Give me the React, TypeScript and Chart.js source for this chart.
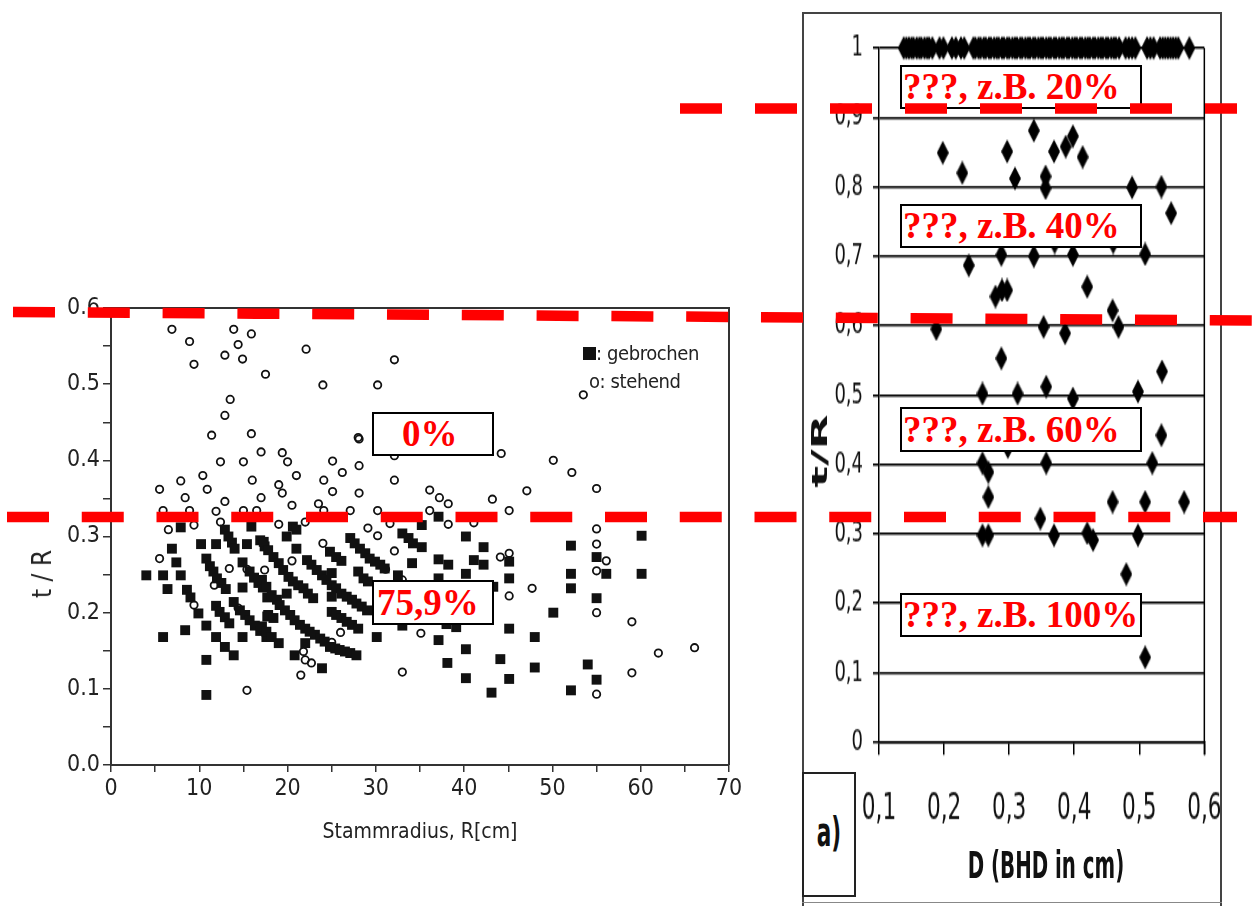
import React, { useEffect, useRef } from 'react';
import { Chart, registerables } from 'chart.js';

Chart.register(...registerables);

const NARROW = "'Liberation Sans Narrow','Arial Narrow','DejaVu Sans Condensed','Liberation Sans',Arial,sans-serif";
const SERIF = "'Liberation Serif','Times New Roman',Times,serif";

// ---------- left chart: t/R vs. Stammradius ----------
const xTicksLeft = [0, 10, 20, 30, 40, 50, 60, 70];
const yTicksLeft = ['0.0', '0.1', '0.2', '0.3', '0.4', '0.5', '0.6'];

// gebrochen (filled squares): [R in cm, t/R]
const gebrochen: [number, number][] = [
  [4.0, 0.249], [5.9, 0.249], [6.4, 0.231], [5.9, 0.168], [7.9, 0.312], [6.9, 0.284], [7.4, 0.266], [7.9, 0.249],
  [8.6, 0.230], [9.0, 0.220], [9.9, 0.199], [8.4, 0.177],
  [10.2, 0.290], [11.9, 0.290], [10.8, 0.271], [11.2, 0.261], [11.6, 0.254], [12.0, 0.245], [12.5, 0.239], [13.0, 0.231],
  [10.8, 0.183], [11.9, 0.168], [12.9, 0.155], [13.9, 0.144], [10.8, 0.138], [10.8, 0.092],
  [11.9, 0.209], [12.3, 0.201], [12.9, 0.194], [13.4, 0.186],
  [12.9, 0.309], [13.3, 0.300], [13.7, 0.292], [14.0, 0.284],
  [15.9, 0.313], [15.4, 0.290], [14.9, 0.266], [14.9, 0.233], [13.9, 0.214], [14.9, 0.168],
  [15.7, 0.254], [16.2, 0.246], [16.7, 0.239], [17.2, 0.233], [17.7, 0.220],
  [14.6, 0.203], [15.2, 0.197], [15.7, 0.190], [16.3, 0.183], [16.9, 0.176], [17.6, 0.168],
  [16.9, 0.295], [17.4, 0.287], [17.7, 0.195],
  [20.6, 0.313], [21.0, 0.309], [19.9, 0.300], [21.0, 0.284],
  [17.3, 0.293], [17.8, 0.282], [18.4, 0.273], [19.0, 0.265], [19.5, 0.256], [20.1, 0.247], [20.6, 0.241],
  [21.2, 0.236], [21.8, 0.232], [22.3, 0.225], [22.9, 0.219],
  [17.1, 0.243], [17.6, 0.234], [18.2, 0.223], [18.8, 0.217], [19.1, 0.210], [19.7, 0.203], [20.3, 0.197],
  [20.8, 0.190], [21.4, 0.184], [22.0, 0.179], [22.5, 0.175], [23.1, 0.171], [23.7, 0.166], [24.2, 0.162],
  [24.8, 0.155], [25.4, 0.153], [25.9, 0.151], [26.5, 0.149], [27.1, 0.147], [27.8, 0.144],
  [17.1, 0.182], [17.6, 0.175], [18.2, 0.168], [19.0, 0.160], [17.8, 0.197], [18.4, 0.193], [22.0, 0.160],
  [20.8, 0.144], [23.9, 0.127], [19.9, 0.225],
  [22.2, 0.269], [22.7, 0.263], [23.3, 0.256], [23.9, 0.249], [24.4, 0.243], [25.0, 0.236], [25.5, 0.232],
  [26.1, 0.225], [26.7, 0.221], [27.3, 0.217], [27.8, 0.212], [28.4, 0.208], [29.0, 0.203],
  [24.8, 0.280], [25.5, 0.273], [26.1, 0.268], [25.0, 0.252], [25.0, 0.221], [25.0, 0.201], [25.5, 0.197],
  [26.1, 0.193], [26.7, 0.188], [27.3, 0.184], [28.0, 0.179],
  [27.1, 0.298], [27.6, 0.291], [28.2, 0.284], [28.8, 0.278], [29.3, 0.271], [29.9, 0.267], [30.5, 0.263],
  [31.0, 0.258], [28.0, 0.254], [28.6, 0.245], [29.1, 0.241], [30.1, 0.168],
  [33.0, 0.304], [33.7, 0.298], [34.2, 0.291], [34.1, 0.265], [32.5, 0.249],
  [35.2, 0.286], [35.2, 0.315], [37.1, 0.326], [37.1, 0.270], [38.2, 0.263], [40.2, 0.300], [42.2, 0.286],
  [41.1, 0.269], [42.2, 0.263], [40.2, 0.251], [37.1, 0.245], [45.1, 0.267], [45.1, 0.245], [43.3, 0.234],
  [33.0, 0.183], [39.1, 0.181], [38.0, 0.185], [37.1, 0.164], [40.2, 0.152], [38.1, 0.134], [40.2, 0.114],
  [43.1, 0.095], [44.1, 0.139], [45.1, 0.179], [45.1, 0.113], [48.0, 0.168], [48.0, 0.128], [50.1, 0.200],
  [52.1, 0.288], [52.1, 0.251], [52.1, 0.232], [52.1, 0.098], [54.0, 0.132], [55.0, 0.112], [55.0, 0.273],
  [56.1, 0.251], [55.0, 0.219], [60.1, 0.301], [60.1, 0.251],
];

// stehend (open circles): [R in cm, t/R]
const stehend: [number, number][] = [
  [6.9, 0.572], [8.9, 0.556], [9.4, 0.526], [13.9, 0.572], [14.4, 0.552], [15.9, 0.566], [12.9, 0.538],
  [14.9, 0.533], [22.1, 0.546], [17.5, 0.513], [24.0, 0.499], [30.2, 0.499], [32.1, 0.532],
  [13.5, 0.480], [12.9, 0.459], [11.4, 0.433], [15.9, 0.435], [28.0, 0.430], [28.1, 0.428],
  [17.0, 0.411], [19.4, 0.410], [20.0, 0.398], [12.4, 0.398], [15.0, 0.398], [25.1, 0.399], [26.2, 0.384],
  [32.1, 0.406], [32.1, 0.374], [28.1, 0.393],
  [10.4, 0.380], [7.9, 0.373], [10.9, 0.362], [5.5, 0.362], [8.4, 0.351], [16.0, 0.374], [21.0, 0.380],
  [19.0, 0.368], [19.4, 0.357], [17.0, 0.351], [24.1, 0.374], [25.1, 0.359], [28.1, 0.357],
  [12.9, 0.346], [20.5, 0.341], [23.5, 0.343], [11.9, 0.333], [8.9, 0.334], [5.9, 0.334], [15.0, 0.334],
  [16.5, 0.334], [27.1, 0.334], [30.2, 0.334], [24.1, 0.334],
  [12.4, 0.319], [9.4, 0.315], [6.5, 0.309], [19.0, 0.316], [22.0, 0.319], [29.1, 0.311], [30.2, 0.301], [31.6, 0.317],
  [44.2, 0.409], [50.1, 0.400], [52.2, 0.384], [53.5, 0.486], [55.0, 0.363], [47.1, 0.360], [43.2, 0.349],
  [36.1, 0.361], [37.2, 0.351], [38.2, 0.343], [36.1, 0.334], [38.2, 0.316], [45.1, 0.334], [41.1, 0.318], [55.0, 0.310],
  [55.0, 0.290], [56.1, 0.268], [55.0, 0.255], [45.1, 0.278], [44.1, 0.273], [45.1, 0.222], [47.7, 0.232],
  [55.0, 0.200], [59.0, 0.188], [62.0, 0.147], [66.1, 0.154], [59.0, 0.121], [55.0, 0.093], [35.1, 0.173],
  [33.0, 0.122], [32.1, 0.281], [31.1, 0.257], [33.0, 0.243],
  [24.0, 0.291], [20.5, 0.268], [17.4, 0.256], [26.0, 0.174], [25.0, 0.161], [21.8, 0.149], [22.0, 0.138],
  [22.7, 0.134], [21.5, 0.118],
  [5.5, 0.271], [13.4, 0.258], [11.7, 0.236], [9.4, 0.210], [15.4, 0.257], [15.4, 0.098], [14.4, 0.206],
];

// ---------- right chart: t/R vs. D ----------
const xTicksRight = ['0,1', '0,2', '0,3', '0,4', '0,5', '0,6'];
const yTicksRight = ['0', '0,1', '0,2', '0,3', '0,4', '0,5', '0,6', '0,7', '0,8', '0,9', '1'];

// trees with t/R = 1 (D values), a dense band along the top
const dAtOne: number[] = [
  0.138, 0.142, 0.146, 0.150, 0.153, 0.158, 0.162, 0.165, 0.170, 0.174, 0.177, 0.182,
  0.193, 0.199, 0.212, 0.218, 0.226, 0.231,
  0.245, 0.248, 0.253, 0.256, 0.261, 0.264, 0.269, 0.272, 0.277, 0.281, 0.284, 0.289, 0.292, 0.297,
  0.300, 0.305, 0.309, 0.312, 0.317, 0.320, 0.325, 0.329, 0.332, 0.337, 0.340, 0.345, 0.349, 0.352,
  0.357, 0.361, 0.364, 0.369, 0.372, 0.377, 0.381, 0.384, 0.389, 0.392, 0.397, 0.401, 0.404, 0.409,
  0.412, 0.417, 0.421, 0.424, 0.429, 0.432, 0.437, 0.441, 0.444, 0.449, 0.452, 0.457, 0.461, 0.464, 0.469,
  0.479, 0.484, 0.489, 0.494, 0.512, 0.517, 0.522,
  0.532, 0.536, 0.540, 0.544, 0.548, 0.552, 0.556, 0.560, 0.577,
];

// remaining trees: [D, t/R]
const rightPoints: [number, number][] = [
  [0.198, 0.849], [0.228, 0.820], [0.297, 0.851], [0.309, 0.812], [0.338, 0.881], [0.356, 0.815], [0.356, 0.798],
  [0.369, 0.851], [0.387, 0.858], [0.398, 0.873], [0.413, 0.843], [0.489, 0.799], [0.534, 0.800], [0.549, 0.762],
  [0.238, 0.687], [0.288, 0.702], [0.338, 0.700], [0.398, 0.702], [0.509, 0.703], [0.370, 0.720], [0.460, 0.720],
  [0.279, 0.642], [0.289, 0.651], [0.297, 0.651], [0.420, 0.656], [0.459, 0.622],
  [0.188, 0.595], [0.353, 0.598], [0.386, 0.589], [0.468, 0.598], [0.288, 0.553], [0.535, 0.534],
  [0.259, 0.502], [0.313, 0.502], [0.357, 0.512], [0.398, 0.495], [0.498, 0.505],
  [0.534, 0.442], [0.259, 0.402], [0.268, 0.389], [0.298, 0.425], [0.357, 0.402], [0.520, 0.402],
  [0.268, 0.353], [0.459, 0.346], [0.509, 0.346], [0.569, 0.346], [0.348, 0.322],
  [0.259, 0.298], [0.268, 0.298], [0.369, 0.298], [0.420, 0.301], [0.429, 0.291], [0.498, 0.298],
  [0.480, 0.242], [0.509, 0.122],
];

// ---------- annotation overlay ----------
const labelBoxes = [
  { text: '0%', left: 372, top: 412, width: 122, height: 44, pad: 28 },
  { text: '75,9%', left: 372, top: 580, width: 122, height: 45, pad: 3 },
  { text: '???, z.B. 20%', left: 900, top: 65, width: 242, height: 44, pad: 1 },
  { text: '???, z.B. 40%', left: 900, top: 204, width: 242, height: 44, pad: 1 },
  { text: '???, z.B. 60%', left: 900, top: 407, width: 242, height: 45, pad: 1 },
  { text: '???, z.B. 100%', left: 900, top: 593, width: 242, height: 44, pad: 1 },
];

const frameLeftPlugin = {
  id: 'frameLeft',
  afterDraw(chart: any) {
    const { ctx, chartArea: a } = chart;
    ctx.save();
    ctx.strokeStyle = '#333';
    ctx.lineWidth = 2;
    ctx.beginPath();
    ctx.moveTo(a.left, a.top);
    ctx.lineTo(a.right, a.top);
    ctx.lineTo(a.right, a.bottom);
    ctx.stroke();
    ctx.restore();
  },
};

const rightBorderPlugin = {
  id: 'rightBorder',
  afterDraw(chart: any) {
    const { ctx, chartArea: a } = chart;
    ctx.save();
    ctx.strokeStyle = '#000';
    ctx.lineWidth = 1.5;
    ctx.beginPath();
    ctx.moveTo(a.right, a.top);
    ctx.lineTo(a.right, a.bottom + 8.7);
    ctx.stroke();
    ctx.restore();
  },
};

export default function App() {
  const leftRef = useRef<HTMLCanvasElement>(null);
  const rightRef = useRef<HTMLCanvasElement>(null);

  useEffect(() => {
    const left = new Chart(leftRef.current as HTMLCanvasElement, {
      type: 'scatter',
      data: {
        datasets: [
          {
            label: 'gebrochen',
            data: gebrochen.map(([x, y]) => ({ x, y })),
            pointStyle: 'rect',
            pointRadius: 7,
            backgroundColor: '#111',
            borderWidth: 0,
            clip: false,
          },
          {
            label: 'stehend',
            data: stehend.map(([x, y]) => ({ x, y })),
            pointStyle: 'circle',
            pointRadius: 3.7,
            borderWidth: 1.8,
            borderColor: '#111',
            backgroundColor: 'rgba(0,0,0,0)',
            clip: false,
          },
        ],
      },
      options: {
        animation: false,
        responsive: false,
        devicePixelRatio: 1,
        events: [],
        layout: { padding: { top: 28, right: 31, left: 0, bottom: 0 } },
        plugins: { legend: { display: false }, tooltip: { enabled: false } },
        scales: {
          x: {
            type: 'linear',
            min: xTicksLeft[0],
            max: xTicksLeft[xTicksLeft.length - 1],
            afterFit: (s: any) => { s.height = 95; },
            ticks: {
              stepSize: 5,
              autoSkip: false,
              maxRotation: 0,
              padding: 3,
              color: '#222',
              font: { family: NARROW, size: 23 },
              callback: (v: any) => (xTicksLeft.includes(Number(v)) ? String(v) : ''),
            },
            grid: { drawOnChartArea: false, drawTicks: true, tickLength: 7, color: '#333', lineWidth: 1.5 },
            border: { display: true, color: '#333', width: 2 },
          },
          y: {
            min: 0,
            max: 0.6,
            afterFit: (s: any) => { s.width = 111; },
            ticks: {
              stepSize: 0.05,
              autoSkip: false,
              padding: 3,
              color: '#222',
              font: { family: NARROW, size: 23 },
              callback: (v: any) => {
                const k = Math.round(Number(v) * 20);
                return k % 2 === 0 ? yTicksLeft[k / 2] : '';
              },
            },
            grid: { drawOnChartArea: false, drawTicks: true, tickLength: 8, color: '#333', lineWidth: 1.5 },
            border: { display: true, color: '#333', width: 2 },
          },
        },
      },
      plugins: [frameLeftPlugin],
    });

    const diamond = document.createElement('canvas');
    diamond.width = 12;
    diamond.height = 16;
    const dctx = diamond.getContext('2d') as CanvasRenderingContext2D;
    dctx.fillStyle = '#000';
    dctx.beginPath();
    dctx.moveTo(6, 0);
    dctx.lineTo(12, 8);
    dctx.lineTo(6, 16);
    dctx.lineTo(0, 8);
    dctx.closePath();
    dctx.fill();

    const rightData = [
      ...dAtOne.map((x) => ({ x, y: 1 })),
      ...rightPoints.map(([x, y]) => ({ x, y })),
    ];

    const right = new Chart(rightRef.current as HTMLCanvasElement, {
      type: 'scatter',
      data: {
        datasets: [
          {
            label: 't/R',
            data: rightData,
            pointStyle: diamond as any,
            pointRadius: 6,
            clip: false,
          },
        ],
      },
      options: {
        animation: false,
        responsive: false,
        devicePixelRatio: 1,
        events: [],
        layout: { padding: { top: 24, right: 35.5, left: 0, bottom: 0 } },
        plugins: { legend: { display: false }, tooltip: { enabled: false } },
        scales: {
          x: {
            type: 'linear',
            min: 0.1,
            max: 0.6,
            afterFit: (s: any) => { s.height = 107.33; },
            ticks: {
              stepSize: 0.1,
              autoSkip: false,
              maxRotation: 0,
              padding: 21.5,
              color: '#111',
              font: { family: NARROW, size: 24 },
              callback: (v: any) => xTicksRight[Math.round(Number(v) * 10) - 1] ?? '',
            },
            grid: { drawOnChartArea: false, drawTicks: true, tickLength: 8.7, color: '#000', lineWidth: 1.5 },
            border: { display: true, color: '#000', width: 1.5 },
          },
          y: {
            min: 0,
            max: 1,
            afterFit: (s: any) => { s.width = 76; },
            ticks: {
              stepSize: 0.1,
              autoSkip: false,
              padding: 10,
              color: '#111',
              font: { family: NARROW, size: 20 },
              callback: (v: any) => yTicksRight[Math.round(Number(v) * 10)] ?? '',
            },
            grid: { drawTicks: true, tickLength: 6, color: '#000', lineWidth: 1.5 },
            border: { display: true, color: '#000', width: 1.5 },
          },
        },
      },
      plugins: [rightBorderPlugin],
    });

    return () => {
      left.destroy();
      right.destroy();
    };
  }, []);

  const abs = (o: React.CSSProperties): React.CSSProperties => ({ position: 'absolute', ...o });

  return (
    <div style={abs({ left: 0, top: 0, width: 1252, height: 906, overflow: 'hidden', background: '#fff' })}>
      <canvas ref={leftRef} width={760} height={580} style={abs({ left: 0, top: 280, width: 760, height: 580 })} />
      <canvas ref={rightRef} width={440} height={594} style={abs({ left: 803, top: 12, width: 440, height: 891 })} />

      {/* left chart texts */}
      <div style={abs({ left: 42, top: 574, transform: 'translate(-50%,-50%) rotate(-90deg)', whiteSpace: 'nowrap', font: `26px ${NARROW}`, color: '#222' })}>t / R</div>
      <div style={abs({ left: 420, top: 831, transform: 'translate(-50%,-50%)', whiteSpace: 'nowrap', font: `21px ${NARROW}`, color: '#222' })}>Stammradius, R[cm]</div>
      <div style={abs({ left: 583, top: 343, whiteSpace: 'nowrap', font: `20px/20px ${NARROW}`, letterSpacing: '-0.4px', color: '#222', display: 'flex', alignItems: 'center' })}>
        <span style={{ display: 'inline-block', width: 13, height: 13, background: '#111' }} />
        <span>: gebrochen</span>
      </div>
      <div style={abs({ left: 589, top: 371, whiteSpace: 'nowrap', font: `20px/20px ${NARROW}`, letterSpacing: '-0.4px', color: '#222' })}>o: stehend</div>

      {/* right figure frame */}
      <div style={abs({ left: 802, top: 12, width: 2, height: 894, background: '#444' })} />
      <div style={abs({ left: 802, top: 12, width: 420, height: 2, background: '#444' })} />
      <div style={abs({ left: 1220, top: 12, width: 2, height: 894, background: '#444' })} />
      <div style={abs({ left: 802, top: 902, width: 420, height: 1, background: '#888' })} />
      <div style={abs({ left: 802, top: 772, width: 54, height: 125, border: '2px solid #222', boxSizing: 'border-box', background: '#fff' })} />
      <div style={abs({ left: 829, top: 832, transform: 'translate(-50%,-50%) scale(1,1.7)', whiteSpace: 'nowrap', font: `bold 24px ${NARROW}`, color: '#111' })}>a)</div>
      <div style={abs({ left: 820, top: 451, transform: 'translate(-50%,-50%) rotate(-90deg) scale(2.4,1)', whiteSpace: 'nowrap', font: `bold 21px ${NARROW}`, color: '#111' })}>t/R</div>
      <div style={abs({ left: 1046, top: 865, transform: 'translate(-50%,-50%) scale(1,1.7)', whiteSpace: 'nowrap', font: `bold 22px ${NARROW}`, color: '#111' })}>D (BHD in cm)</div>

      {/* red annotation boxes */}
      {labelBoxes.map((b) => (
        <div
          key={b.text}
          style={abs({
            left: b.left,
            top: b.top,
            width: b.width,
            height: b.height,
            boxSizing: 'border-box',
            border: '2px solid #000',
            background: '#fff',
            color: '#ff0000',
            font: `bold 37px ${SERIF}`,
            lineHeight: `${b.height - 4}px`,
            paddingLeft: b.pad,
            whiteSpace: 'nowrap',
            overflow: 'hidden',
          })}
        >
          {b.text}
        </div>
      ))}

      {/* red dashed threshold lines */}
      <svg width={1252} height={906} style={abs({ left: 0, top: 0, pointerEvents: 'none' })}>
        <line x1={680} y1={108.5} x2={1237} y2={108.5} stroke="#ff0000" strokeWidth={10.5} strokeDasharray="42 33" />
        <line x1={13} y1={312} x2={1252} y2={320.5} stroke="#ff0000" strokeWidth={10.5} strokeDasharray="42 32.8" />
        <line x1={7} y1={517} x2={1237} y2={517} stroke="#ff0000" strokeWidth={10.5} strokeDasharray="42 32.75" />
      </svg>
    </div>
  );
}
